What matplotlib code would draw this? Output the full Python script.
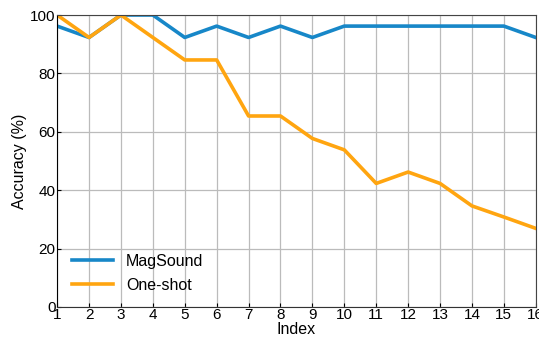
import matplotlib
matplotlib.use('Agg')
import matplotlib.pyplot as plt

# Data
index = list(range(1, 17))
magsound = [96.2, 92.3, 100, 100, 92.3, 96.2, 92.3, 96.2, 92.3, 96.2, 96.2, 96.2, 96.2, 96.2, 96.2, 92.3]
one_shot = [100, 92.3, 100, 92.3, 84.6, 84.6, 65.4, 65.4, 57.7, 53.8, 42.3, 46.2, 42.3, 34.6, 30.8, 26.9]

plt.rcParams['font.family'] = ['Liberation Sans', 'DejaVu Sans']

fig = plt.figure(figsize=(5.39, 3.41), dpi=100)
ax = fig.add_axes([0.106, 0.1, 0.888, 0.856])

ax.plot(index, magsound, color='#1787c8', linewidth=2.6, label='MagSound')
ax.plot(index, one_shot, color='#ffa510', linewidth=2.6, label='One-shot')

ax.set_xlim(1, 16)
ax.set_ylim(0, 100)
ax.set_xticks(index)
ax.set_yticks([0, 20, 40, 60, 80, 100])
ax.grid(True, color='#bbbbbb', linewidth=0.9)
ax.set_axisbelow(True)
ax.tick_params(direction='in', length=3, labelsize=11, pad=1)
ax.spines['left'].set_color('black')
ax.spines['bottom'].set_color('#333333')
ax.spines['top'].set_color('#444444')
ax.spines['right'].set_color('#444444')

ax.set_xlabel('Index', fontsize=11.5, labelpad=0)
ax.set_ylabel('Accuracy (%)', fontsize=11.5, labelpad=2)
ax.legend(loc='lower left', frameon=False, fontsize=11.5, handlelength=2.6,
          labelspacing=0.55, bbox_to_anchor=(0.0, 0.0))

fig.savefig('out.png', dpi=100)
